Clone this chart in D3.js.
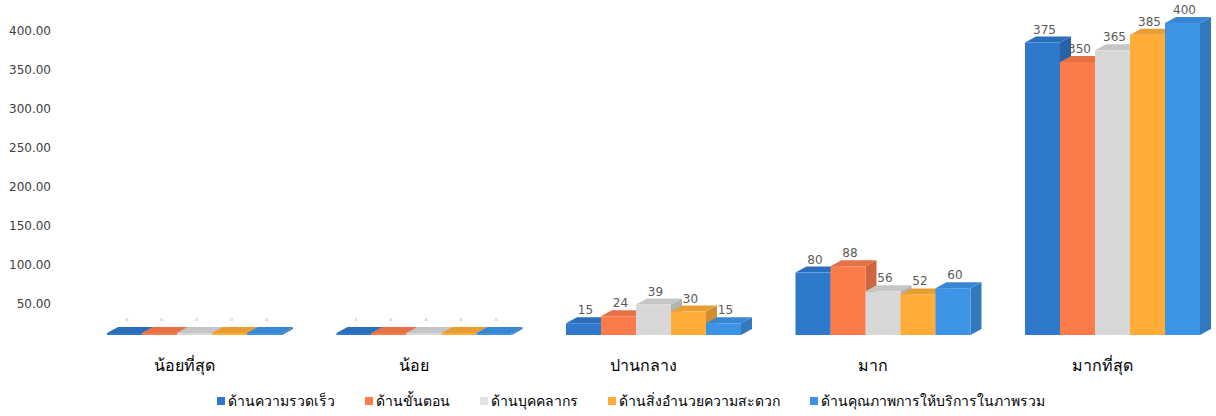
<!DOCTYPE html>
<html>
<head>
<meta charset="utf-8">
<script src="https://cdn.jsdelivr.net/npm/d3@7"></script>
<style>
  body { margin: 0; background: #fff; }
  svg { display: block; }
</style>
</head>
<body>
<svg id="chart" width="1216" height="416"></svg>
<script>
// Rating categories along the x axis
const categories = ["น้อยที่สุด", "น้อย", "ปานกลาง", "มาก", "มากที่สุด"];

// Series (one per service aspect)
const seriesNames = [
  "ด้านความรวดเร็ว",
  "ด้านขั้นตอน",
  "ด้านบุคคลากร",
  "ด้านสิ่งอำนวยความสะดวก",
  "ด้านคุณภาพการให้บริการในภาพรวม"
];
const speed      = [0, 0, 15, 80, 375];
const procedure  = [0, 0, 24, 88, 350];
const personnel  = [0, 0, 39, 56, 365];
const facilities = [0, 0, 30, 52, 385];
const overall    = [0, 0, 15, 60, 400];

// Value axis tick labels
const yTicks = [50, 100, 150, 200, 250, 300, 350, 400];

const seriesValues = [speed, procedure, personnel, facilities, overall];
const seriesColors = ["#2f79cd", "#fb7b4a", "#d8d8d8", "#ffad38", "#3d94e6"];

const svg = d3.select("#chart");

// 3D box depth offsets
const DX = 11, DY = -6;

const x0 = d3.scaleBand().domain(categories).range([107, 1200]).paddingInner(0.2375).paddingOuter(0);
const x1 = d3.scaleBand().domain(seriesNames).range([0, x0.bandwidth()]).padding(0);
const y = d3.scaleLinear().domain([0, 400]).range([335, 23]);

// Value axis (labels sit on the back wall, slightly below the front scale)
const axis = d3.axisLeft(y).tickValues(yTicks).tickSize(0).tickPadding(0).tickFormat(d3.format(".2f"));
const gAxis = svg.append("g").attr("transform", "translate(51,8)").call(axis);
gAxis.select(".domain").remove();
gAxis.selectAll("text")
  .attr("font-family", "DejaVu Sans, sans-serif")
  .attr("font-size", 12)
  .attr("fill", "#404040");

// Bars as simple 3D boxes: right side, top, front
const groups = svg.append("g").selectAll("g")
  .data(categories)
  .join("g")
  .attr("transform", d => `translate(${x0(d)},0)`);

const bw = x1.bandwidth();
const line = d3.line();
groups.each(function(cat, ci) {
  const g = d3.select(this);
  seriesNames.forEach((name, si) => {
    const v = seriesValues[si][ci];
    const c = seriesColors[si];
    const xl = x1(name);
    const yb = y(0);
    let yt = y(v);
    if (yb - yt < 2) yt = yb - 2;
    const side = [[xl + bw, yt], [xl + bw + DX, yt + DY], [xl + bw + DX, yb + DY], [xl + bw, yb]];
    const top = [[xl, yt], [xl + bw, yt], [xl + bw + DX, yt + DY], [xl + DX, yt + DY]];
    g.append("path").attr("d", line(side) + "Z").attr("fill", d3.color(c).darker(0.55));
    g.append("path").attr("d", line(top) + "Z").attr("fill", d3.color(c).darker(0.25));
    g.append("rect")
      .attr("x", xl).attr("y", yt)
      .attr("width", bw).attr("height", yb - yt)
      .attr("fill", c);
    // data label
    const lbl = g.append("text")
      .attr("x", xl + bw / 2 + 2)
      .attr("text-anchor", "middle")
      .attr("font-family", "DejaVu Sans, sans-serif")
      .attr("fill", "#595959")
      .text(v);
    if (v === 0) {
      lbl.attr("y", yb - 14).attr("font-size", 4).attr("fill", "#9a9a9a");
    } else {
      lbl.attr("y", y(v) - 9).attr("font-size", 12);
    }
  });
});

// Category labels
svg.append("g").selectAll("text")
  .data(categories)
  .join("text")
  .attr("x", d => x0(d) + x0.bandwidth() / 2 - 10)
  .attr("y", 371)
  .attr("text-anchor", "middle")
  .attr("font-family", "Noto Sans, DejaVu Sans, sans-serif")
  .attr("font-size", 16)
  .attr("fill", "#000")
  .text(d => d);

// Legend
const legend = svg.append("g").attr("transform", "translate(0,401)");
const items = legend.selectAll("g").data(seriesNames).join("g");
items.append("rect").attr("x", 0).attr("y", -4).attr("width", 8).attr("height", 8)
  .attr("fill", (d, i) => i === 2 ? "#e4e4e4" : seriesColors[i]);
items.append("text").attr("x", 11).attr("y", 0).attr("dy", "0.35em")
  .attr("font-family", "Noto Sans, DejaVu Sans, sans-serif")
  .attr("font-size", 14).attr("fill", "#000")
  .text(d => d);
let cx = 217;
const gap = 30;
items.each(function() {
  const it = d3.select(this);
  it.attr("transform", `translate(${cx},0)`);
  cx += 11 + it.select("text").node().getComputedTextLength() + gap;
});
</script>
</body>
</html>
